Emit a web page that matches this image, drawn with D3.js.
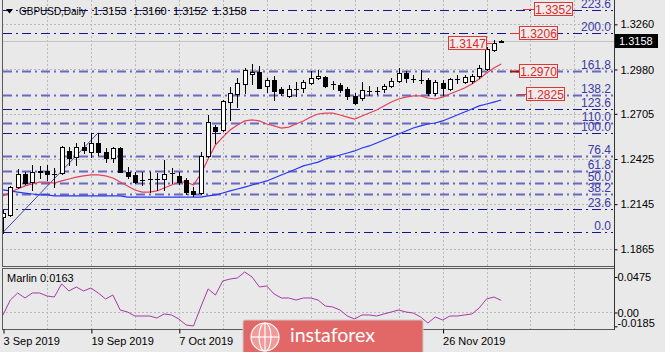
<!DOCTYPE html>
<html>
<head>
<meta charset="utf-8">
<script src="https://cdn.jsdelivr.net/npm/d3@7"></script>
<style>
  body { margin: 0; background: #e9e9e9; }
  svg { display: block; font-family: "Liberation Sans", Arial, sans-serif; font-size: 11px; }
</style>
</head>
<body>
<div id="chart"></div>
<script>
// GBPUSD daily, 3 Sep - 6 Dec 2019
const dates = [
  "3 Sep 2019","4 Sep 2019","5 Sep 2019","6 Sep 2019","9 Sep 2019","10 Sep 2019","11 Sep 2019","12 Sep 2019","13 Sep 2019","16 Sep 2019",
  "17 Sep 2019","18 Sep 2019","19 Sep 2019","20 Sep 2019","23 Sep 2019","24 Sep 2019","25 Sep 2019","26 Sep 2019","27 Sep 2019","30 Sep 2019",
  "1 Oct 2019","2 Oct 2019","3 Oct 2019","4 Oct 2019","7 Oct 2019","8 Oct 2019","9 Oct 2019","10 Oct 2019","11 Oct 2019","14 Oct 2019",
  "15 Oct 2019","16 Oct 2019","17 Oct 2019","18 Oct 2019","21 Oct 2019","22 Oct 2019","23 Oct 2019","24 Oct 2019","25 Oct 2019","28 Oct 2019",
  "29 Oct 2019","30 Oct 2019","31 Oct 2019","1 Nov 2019","4 Nov 2019","5 Nov 2019","6 Nov 2019","7 Nov 2019","8 Nov 2019","11 Nov 2019",
  "12 Nov 2019","13 Nov 2019","14 Nov 2019","15 Nov 2019","18 Nov 2019","19 Nov 2019","20 Nov 2019","21 Nov 2019","22 Nov 2019","25 Nov 2019",
  "26 Nov 2019","27 Nov 2019","28 Nov 2019","29 Nov 2019","2 Dec 2019","3 Dec 2019","4 Dec 2019","5 Dec 2019","6 Dec 2019"
];

const open = [
  1.2065,1.2078,1.2251,1.2332,1.2282,1.2344,1.2351,1.2334,1.2338,1.2475,
  1.2437,1.2499,1.2468,1.2524,1.2468,1.2431,1.2493,1.2344,1.2326,1.2297,
  1.2299,1.2303,1.2301,1.2336,1.2320,1.2295,1.2227,1.2214,1.2444,1.2623,
  1.2605,1.2778,1.2828,1.2890,1.2952,1.2964,1.2878,1.2915,1.2859,1.2816,
  1.2861,1.2865,1.2896,1.2927,1.2933,1.2888,1.2884,1.2859,1.2816,1.2803,
  1.2845,1.2849,1.2859,1.2878,1.2909,1.2958,1.2923,1.2917,1.2915,1.2834,
  1.2896,1.2859,1.2923,1.2902,1.2909,1.2940,1.2983,1.3101,1.3153
];
const high = [
  1.2109,1.2258,1.2363,1.2344,1.2388,1.2382,1.2388,1.2369,1.2506,1.2499,
  1.2524,1.2530,1.2586,1.2586,1.2493,1.2499,1.2499,1.2375,1.2344,1.2344,
  1.2344,1.2338,1.2419,1.2369,1.2344,1.2307,1.2251,1.2468,1.2698,1.2636,
  1.2791,1.2871,1.2927,1.2989,1.3014,1.3002,1.2927,1.2940,1.2871,1.2884,
  1.2902,1.2915,1.2971,1.2977,1.2940,1.2909,1.2896,1.2871,1.2834,1.2902,
  1.2878,1.2871,1.2890,1.2927,1.2989,1.2971,1.2946,1.2977,1.2927,1.2915,
  1.2915,1.2927,1.2946,1.2946,1.2952,1.3008,1.3119,1.3165,1.3160
];
const low = [
  1.1966,1.2072,1.2245,1.2270,1.2233,1.2307,1.2295,1.2251,1.2332,1.2388,
  1.2388,1.2462,1.2437,1.2450,1.2406,1.2406,1.2344,1.2307,1.2276,1.2264,
  1.2220,1.2233,1.2233,1.2276,1.2270,1.2208,1.2196,1.2208,1.2437,1.2524,
  1.2599,1.2667,1.2747,1.2834,1.2890,1.2865,1.2840,1.2791,1.2822,1.2809,
  1.2816,1.2840,1.2890,1.2921,1.2871,1.2859,1.2840,1.2797,1.2766,1.2791,
  1.2822,1.2828,1.2840,1.2871,1.2902,1.2902,1.2902,1.2896,1.2822,1.2822,
  1.2822,1.2853,1.2896,1.2896,1.2896,1.2927,1.2977,1.3095,1.3152
];
const close = [
  1.2090,1.2251,1.2332,1.2276,1.2344,1.2348,1.2332,1.2330,1.2499,1.2431,
  1.2499,1.2481,1.2524,1.2468,1.2431,1.2493,1.2344,1.2320,1.2282,1.2293,
  1.2303,1.2299,1.2332,1.2340,1.2282,1.2220,1.2208,1.2444,1.2654,1.2599,
  1.2785,1.2834,1.2896,1.2977,1.2964,1.2865,1.2915,1.2847,1.2834,1.2859,
  1.2857,1.2902,1.2927,1.2940,1.2878,1.2892,1.2853,1.2816,1.2772,1.2853,
  1.2849,1.2845,1.2878,1.2909,1.2958,1.2927,1.2919,1.2913,1.2834,1.2902,
  1.2865,1.2921,1.2919,1.2933,1.2940,1.2989,1.3107,1.3147,1.3158
];

// fast (red) and slow (blue) moving averages
const redMa = [
  1.2196,1.2220,1.2239,1.2258,1.2270,1.2282,1.2282,1.2276,1.2289,1.2301,
  1.2313,1.2320,1.2326,1.2326,1.2320,1.2307,1.2282,1.2258,1.2233,1.2220,
  1.2220,1.2227,1.2245,1.2264,1.2282,1.2282,1.2264,1.2332,1.2425,1.2512,
  1.2561,1.2605,1.2636,1.2661,1.2667,1.2661,1.2642,1.2630,1.2617,1.2623,
  1.2642,1.2661,1.2685,1.2704,1.2710,1.2710,1.2698,1.2685,1.2673,1.2692,
  1.2710,1.2729,1.2754,1.2778,1.2797,1.2809,1.2816,1.2816,1.2803,1.2797,
  1.2809,1.2828,1.2847,1.2865,1.2890,1.2921,1.2958,1.2989,1.3014
];
const blueMa = [
  1.2233,1.2227,1.2220,1.2214,1.2208,1.2202,1.2202,1.2196,1.2196,1.2196,
  1.2196,1.2196,1.2196,1.2196,1.2196,1.2196,1.2196,1.2189,1.2189,1.2189,
  1.2189,1.2189,1.2189,1.2189,1.2189,1.2189,1.2189,1.2189,1.2196,1.2202,
  1.2214,1.2227,1.2239,1.2251,1.2264,1.2276,1.2289,1.2307,1.2326,1.2344,
  1.2363,1.2382,1.2394,1.2406,1.2425,1.2437,1.2450,1.2462,1.2475,1.2493,
  1.2506,1.2524,1.2543,1.2561,1.2580,1.2599,1.2617,1.2630,1.2642,1.2648,
  1.2661,1.2679,1.2698,1.2716,1.2735,1.2754,1.2766,1.2778,1.2791
];

// Marlin oscillator
const marlin = [
  -0.0033,0.0167,0.0261,0.0194,0.0261,0.0261,0.0221,0.0207,0.0382,0.0288,
  0.0341,0.0288,0.0328,0.0261,0.0181,0.0234,0.0033,0.0007,-0.0047,-0.0047,
  -0.0047,-0.0074,-0.0020,-0.0033,-0.0087,-0.0167,-0.0181,0.0074,0.0315,0.0234,
  0.0422,0.0448,0.0462,0.0542,0.0475,0.0341,0.0355,0.0248,0.0194,0.0194,
  0.0167,0.0194,0.0194,0.0167,0.0087,0.0074,0.0033,-0.0047,-0.0087,-0.0033,
  -0.0033,-0.0047,-0.0020,0.0007,0.0033,0.0007,-0.0007,-0.0060,-0.0141,-0.0060,
  -0.0100,-0.0047,-0.0047,-0.0033,-0.0020,0.0060,0.0181,0.0207,0.0163
];

// Fibonacci grid from the 3 Sep low to the 20 Sep high
const fibStart = { bar: 0, price: 1.1970 };
const fibEnd = { bar: 13, price: 1.2588 };
const fibLevels = [0, 23.6, 38.2, 50, 61.8, 76.4, 100, 110, 123.6, 138.2, 161.8, 200, 223.6];

// red price tags
const tagValues = [1.3352, 1.3206, 1.3147, 1.2970, 1.2825];

const priceTicks = [1.3260, 1.2980, 1.2705, 1.2425, 1.2145, 1.1865];
const marlinTicks = [0.0475, 0, -0.0185];
const dateTicks = ["3 Sep 2019", "19 Sep 2019", "7 Oct 2019", "23 Oct 2019", "8 Nov 2019", "26 Nov 2019"];
const lastQuote = [1.3153, 1.3160, 1.3152, 1.3158];

// ---------------------------------------------------------------
const W = 665, H = 352;
const LEFT = 2, RIGHT = 614, MAIN_BOTTOM = 266, SUB_TOP = 268, SUB_BOTTOM = 329;

const x = d3.scaleLinear().domain([0, 83.4]).range([3, RIGHT]);
const y = d3.scaleLinear().domain([1.17616, 1.34108]).range([MAIN_BOTTOM, 0]);
const ySub = d3.scaleLinear().domain([-0.02208, 0.05954]).range([SUB_BOTTOM, SUB_TOP]);
const px = v => Math.round(v) + 0.5;

const svg = d3.select("#chart").append("svg").attr("width", W).attr("height", H);
svg.append("rect").attr("width", W).attr("height", H).attr("fill", "#e9e9e9");

svg.append("clipPath").attr("id", "mainClip")
  .append("rect").attr("x", LEFT).attr("y", 0).attr("width", RIGHT - LEFT).attr("height", MAIN_BOTTOM);
svg.append("clipPath").attr("id", "subClip")
  .append("rect").attr("x", LEFT).attr("y", SUB_TOP).attr("width", RIGHT - LEFT).attr("height", SUB_BOTTOM - SUB_TOP);

const main = svg.append("g").attr("clip-path", "url(#mainClip)");
const subG = svg.append("g").attr("clip-path", "url(#subClip)");

// grid
const gridBars = d3.range(6, 84, 6);
[[main, 0, MAIN_BOTTOM], [subG, SUB_TOP, SUB_BOTTOM]].forEach(([g, y1, y2]) => {
  g.append("g").selectAll("line").data(gridBars).join("line")
    .attr("x1", d => px(x(d))).attr("x2", d => px(x(d)))
    .attr("y1", y1).attr("y2", y2)
    .attr("stroke", "#b9b9b9").attr("stroke-dasharray", "2,2");
});
main.append("g").selectAll("line").data(priceTicks).join("line")
  .attr("x1", LEFT).attr("x2", RIGHT)
  .attr("y1", d => px(y(d))).attr("y2", d => px(y(d)))
  .attr("stroke", "#b9b9b9").attr("stroke-dasharray", "2,2");
subG.append("line")
  .attr("x1", LEFT).attr("x2", RIGHT).attr("y1", px(ySub(0))).attr("y2", px(ySub(0)))
  .attr("stroke", "#b9b9b9").attr("stroke-dasharray", "2,2");

// bid line
main.append("line")
  .attr("x1", LEFT).attr("x2", RIGHT)
  .attr("y1", px(y(lastQuote[3]))).attr("y2", px(y(lastQuote[3])))
  .attr("stroke", "#c4c4c4");

// fibonacci levels
const fibPrice = lvl => fibStart.price + (fibEnd.price - fibStart.price) * lvl / 100;
const lightLevels = new Set([38.2, 50, 61.8, 76.4, 110, 138.2, 161.8]);
main.append("g").selectAll("line").data(fibLevels).join("line")
  .attr("x1", 3).attr("x2", RIGHT - 1)
  .attr("y1", d => px(y(fibPrice(d)))).attr("y2", d => px(y(fibPrice(d))))
  .attr("stroke", d => lightLevels.has(d) ? "#5252b8" : "#16168a")
  .attr("stroke-width", d => lightLevels.has(d) ? 1.8 : 1.2)
  .attr("stroke-opacity", d => lightLevels.has(d) ? 0.85 : 1)
  .attr("stroke-dasharray", "9,4,2,4");

main.append("line")
  .attr("x1", x(fibStart.bar)).attr("y1", y(fibStart.price))
  .attr("x2", x(fibEnd.bar)).attr("y2", y(fibEnd.price))
  .attr("stroke", "#4646a8").attr("stroke-width", 1);

// moving averages
const lineGen = arr => d3.line().x((d, i) => x(i)).y(d => y(d))(arr);
main.append("path").attr("d", lineGen(blueMa)).attr("fill", "none")
  .attr("stroke", "#2636f2").attr("stroke-width", 1.2);
main.append("path").attr("d", lineGen(redMa)).attr("fill", "none")
  .attr("stroke", "#e4405e").attr("stroke-width", 1.2);

// candles
const bars = dates.map((d, i) => ({ i, o: open[i], h: high[i], l: low[i], c: close[i] }));
const cg = main.append("g").attr("shape-rendering", "crispEdges");
cg.selectAll(".wick").data(bars).join("line").attr("class", "wick")
  .attr("x1", d => px(x(d.i))).attr("x2", d => px(x(d.i)))
  .attr("y1", d => Math.round(y(d.h))).attr("y2", d => Math.round(y(d.l)) + 1)
  .attr("stroke", "#000");
const isDoji = d => Math.abs(Math.round(y(d.o)) - Math.round(y(d.c))) < 1;
cg.selectAll(".body").data(bars.filter(d => !isDoji(d))).join("rect").attr("class", "body")
  .attr("x", d => Math.round(x(d.i)) - 2 + 0.5)
  .attr("y", d => px(y(Math.max(d.o, d.c))))
  .attr("width", 4)
  .attr("height", d => Math.round(y(Math.min(d.o, d.c))) - Math.round(y(Math.max(d.o, d.c))))
  .attr("fill", d => d.c >= d.o ? "#fff" : "#000")
  .attr("stroke", "#000");
cg.selectAll(".doji").data(bars.filter(isDoji)).join("line").attr("class", "doji")
  .attr("x1", d => Math.round(x(d.i)) - 2).attr("x2", d => Math.round(x(d.i)) + 3)
  .attr("y1", d => px(y(d.c))).attr("y2", d => px(y(d.c)))
  .attr("stroke", "#000");

// fib level labels
main.append("g").selectAll("text").data(fibLevels).join("text")
  .attr("x", 611).attr("y", d => y(fibPrice(d)) - 2)
  .attr("text-anchor", "end").attr("fill", "#3a3aa8").attr("font-size", "12px")
  .text(d => d.toFixed(1));

// red price tags
const tagLayout = [
  { box: 534, from: 523 },
  { box: 519, from: 510 },
  { box: 448, from: 493 },
  { box: 519, from: 510 },
  { box: 526, from: 517 }
];
const tg = main.append("g");
tagValues.forEach((v, k) => {
  const cy = y(v), L = tagLayout[k], bw = 38;
  const lineEnd = L.from > L.box ? L.box + bw : L.box;
  tg.append("line").attr("x1", L.from).attr("x2", lineEnd)
    .attr("y1", px(cy)).attr("y2", px(cy))
    .attr("stroke", v === 1.2970 ? "#a01010" : "#e23434").attr("stroke-width", v === 1.2970 ? 2 : 1);
  tg.append("rect").attr("x", L.box + 0.5).attr("y", Math.round(cy) - 6.5)
    .attr("width", bw).attr("height", 13)
    .attr("fill", "#ececec").attr("stroke", "#e23434");
  tg.append("text").attr("x", L.box + bw / 2 + 0.5).attr("y", Math.round(cy) + 4.5)
    .attr("text-anchor", "middle").attr("fill", "#e02828").attr("font-size", "12px")
    .text(v.toFixed(4));
});

// frames
const frame = svg.append("g").attr("fill", "none").attr("stroke", "#5a5a5a").attr("shape-rendering", "crispEdges");
frame.append("rect").attr("x", LEFT + 0.5).attr("y", -1).attr("width", RIGHT - LEFT).attr("height", MAIN_BOTTOM + 1.5);
frame.append("rect").attr("x", LEFT + 0.5).attr("y", SUB_TOP + 0.5).attr("width", RIGHT - LEFT).attr("height", SUB_BOTTOM - SUB_TOP);

// marlin line
subG.append("path")
  .attr("d", d3.line().x((d, i) => x(i)).y(d => ySub(d))(marlin))
  .attr("fill", "none").attr("stroke", "#a63aa8").attr("stroke-width", 1);

// header
svg.append("path").attr("d", "M6,9 L13,9 L9.5,13.5 Z").attr("fill", "#000");
svg.append("text").attr("x", 19).attr("y", 15).attr("fill", "#000")
  .attr("textLength", 67).attr("lengthAdjust", "spacingAndGlyphs").text("GBPUSD,Daily");
svg.append("g").selectAll("text").data(lastQuote).join("text")
  .attr("x", (d, i) => 93 + i * 40).attr("y", 15).attr("fill", "#000")
  .text(d => d.toFixed(4));
svg.append("text").attr("x", 7).attr("y", 282).attr("fill", "#000")
  .text("Marlin " + marlin[marlin.length - 1].toFixed(4));

// price axis
const yAxis = svg.append("g").attr("transform", `translate(${RIGHT + 0.5},0)`)
  .call(d3.axisRight(y).tickValues(priceTicks).tickSize(3).tickPadding(3).tickFormat(d3.format(".4f")));
yAxis.select(".domain").remove();
yAxis.selectAll("text").attr("font-size", "11px").attr("font-family", "Liberation Sans, Arial, sans-serif").attr("fill", "#000");
yAxis.selectAll("line").attr("stroke", "#000");

const sAxis = svg.append("g").attr("transform", `translate(${RIGHT + 0.5},0)`)
  .call(d3.axisRight(ySub).tickValues(marlinTicks).tickSize(3).tickPadding(0)
    .tickFormat(d => d === 0 ? "0.00" : d.toFixed(4)));
sAxis.select(".domain").remove();
sAxis.selectAll("text").attr("font-size", "11px").attr("font-family", "Liberation Sans, Arial, sans-serif").attr("fill", "#000")
  .attr("dy", d => d < 0 ? "0.05em" : "0.32em");
sAxis.selectAll("line").attr("stroke", "#000");

// right axis line
svg.append("line").attr("x1", RIGHT + 0.5).attr("x2", RIGHT + 0.5).attr("y1", 0).attr("y2", SUB_BOTTOM + 1)
  .attr("stroke", "#333");

// current price box
const cp = y(lastQuote[3]);
svg.append("rect").attr("x", RIGHT + 1).attr("y", Math.round(cp) - 7).attr("width", 43).attr("height", 14).attr("fill", "#000");
svg.append("text").attr("x", RIGHT + 5).attr("y", Math.round(cp) + 4).attr("fill", "#fff").text(lastQuote[3].toFixed(4));

// time axis
const xAxis = svg.append("g").attr("transform", `translate(0,${SUB_BOTTOM + 0.5})`)
  .call(d3.axisBottom(x).tickValues(dateTicks.map(d => dates.indexOf(d))).tickSize(4).tickPadding(4)
    .tickFormat(i => dates[i]));
xAxis.select(".domain").remove();
xAxis.selectAll(".tick line").attr("stroke", "#000").attr("transform", "translate(0.5,0)");
xAxis.selectAll("text").attr("text-anchor", "start").attr("font-size", "11px")
  .attr("font-family", "Liberation Sans, Arial, sans-serif").attr("fill", "#000");

// instaforex badge
const logo = svg.append("g");
logo.append("rect").attr("x", 243).attr("y", 320).attr("width", 180).attr("height", 40).attr("rx", 2)
  .attr("fill", "#e26868").attr("stroke", "#c9c9c9");
const globe = logo.append("g").attr("transform", "translate(265,337)");
globe.append("circle").attr("r", 14).attr("fill", "#f09a9a").attr("stroke", "#fff").attr("stroke-width", 1.2);
globe.append("ellipse").attr("rx", 6).attr("ry", 14).attr("fill", "none").attr("stroke", "#fff").attr("stroke-width", 1.2);
globe.append("line").attr("x1", -14).attr("x2", 14).attr("stroke", "#fff").attr("stroke-width", 1.2);
globe.append("line").attr("y1", -14).attr("y2", 14).attr("stroke", "#fff").attr("stroke-width", 1.2);
logo.append("text").attr("x", 290).attr("y", 342)
  .attr("font-family", "Lato, 'Open Sans', sans-serif").attr("font-size", "20px").attr("fill", "#fff")
  .attr("textLength", 85).attr("lengthAdjust", "spacingAndGlyphs")
  .text("instaforex");
</script>
</body>
</html>
